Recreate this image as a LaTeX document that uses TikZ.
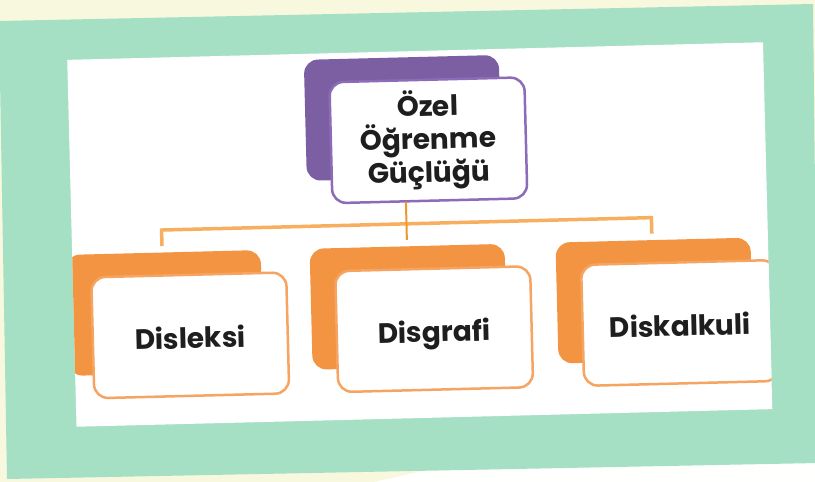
\documentclass[tikz,border=0pt]{standalone}
\usepackage{fontspec}
\setmainfont{Poppins}
\definecolor{cream}{HTML}{F8F8DE}
\definecolor{mint}{HTML}{A5E0C5}
\definecolor{purplefill}{HTML}{7B5FA2}
\definecolor{purpleline}{HTML}{8C6BB8}
\definecolor{orangefill}{HTML}{F29442}
\definecolor{orangeline}{HTML}{F5A462}
\definecolor{barline}{HTML}{F7AE5F}
\definecolor{stemline}{HTML}{F0962E}
\definecolor{ink}{HTML}{1E1E1E}

\begin{document}
\begin{tikzpicture}[x=1pt, y=-1pt,
	every node/.style={rounded corners=14pt, minimum width=195pt, minimum height=121pt, inner sep=2pt},
	card/.style={draw, fill=white, line width=2.5pt, text=ink, align=center, font=\fontsize{28}{33}\selectfont\bfseries},
	leaf/.style={card, draw=orangeline, text height=26pt, text depth=0pt},
	bar/.style={barline, line width=3.5pt},
	stem/.style={stemline, line width=2pt}]
	\useasboundingbox (0,0) rectangle (815,482);
	% paper and frame
	\fill[cream] (0,0) rectangle (815,482);
	\fill[white!98!cream] (374,482) -- (432,469) -- (820,461) -- (820,490) -- (374,490) -- cycle;
	\fill[mint] (-1,21) -- (813,4) -- (818,463) -- (7,479) -- cycle;
	\begin{scope}[shift={(419.75,234.5)}, rotate=1.45, transform shape]
	\fill[white] (-348,-183.5) rectangle (348,183.5);
	\clip (-348,-183.5) rectangle (348,183.5);
	% back cards
	\node[fill=purplefill] (5) at (-14,-117) {};
	\node[fill=orangefill] (6) at (-257,72) {};
	\node[fill=orangefill] (7) at (-13,72) {};
	\node[fill=orangefill] (8) at (233,72) {};
	% front cards
	\node[card, draw=purpleline] (1) at (11,-94) {Özel\\Öğrenme\\Güçlüğü};
	\node[leaf] (2) at (-232,95) {Disleksi};
	\node[leaf] (3) at (12,95) {Disgrafi};
	\node[leaf] (4) at (258,95) {Diskalkuli};
	% connectors
	\coordinate (s) at (-13,-33);
	\coordinate (h1) at (-258,-11);
	\coordinate (h3) at (232,-11);
	\coordinate (t1) at (-258,5);
	\coordinate (t2) at (-13,5);
	\coordinate (t3) at (232,5);
	\draw[bar] (t1) -- (h1) -- (h3) -- (t3);
	\draw[stem] (s) -- (t2);
	\end{scope}
\end{tikzpicture}
\end{document}
